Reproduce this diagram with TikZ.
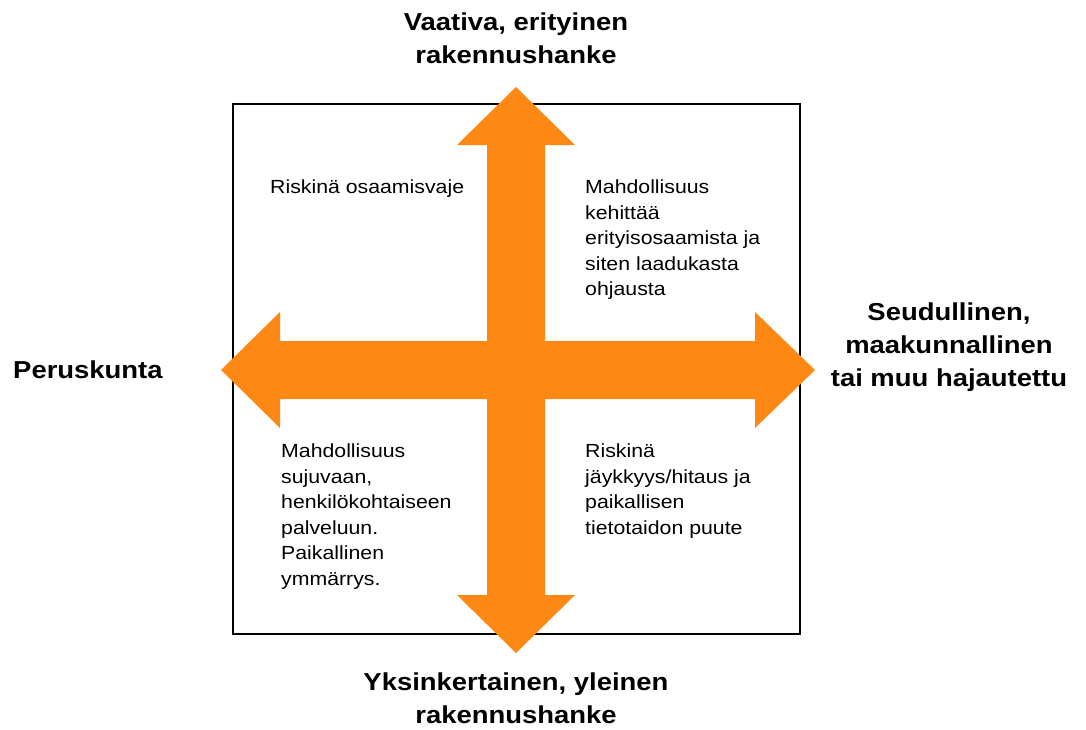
\documentclass[tikz,border=0pt]{standalone}
\usepackage{fontspec}
\setmainfont{Liberation Sans}[FakeStretch=1.12]
\definecolor{arroworange}{RGB}{253,137,20}
\tikzset{
  quadtext/.style={anchor=north west, inner sep=0pt, align=left, font=\fontsize{19}{25.5}\selectfont},
  axistext/.style={inner sep=0pt, align=center, font=\fontsize{24.5}{33}\selectfont\bfseries}
}
\begin{document}
\begin{tikzpicture}[x=1pt,y=-1pt]
\useasboundingbox (0,0) rectangle (1086,729);

% frame
\draw[line width=1.3pt] (233,104) rectangle (800,634);

% the two double arrows
\fill[arroworange] (516,87) -- (575,145) -- (545,145) -- (545,595) -- (575,595) -- (516,653)
  -- (457,595) -- (487,595) -- (487,145) -- (457,145) -- cycle;
\fill[arroworange] (221,370) -- (280,312) -- (280,341) -- (755,341) -- (755,312) -- (815,370)
  -- (755,428) -- (755,399) -- (280,399) -- (280,428) -- cycle;

% axis ends
\node[axistext, anchor=north] (top) at (516,13) {Vaativa, erityinen\\rakennushanke};
\node[axistext, anchor=north] (bottom) at (516,673) {Yksinkertainen, yleinen\\rakennushanke};
\node[axistext, anchor=west] (left) at (13,370) {Peruskunta};
\node[axistext, anchor=north] (right) at (949,303) {Seudullinen,\\maakunnallinen\\tai muu hajautettu};

% quadrants
\node[quadtext] (tl) at (270,180) {Riskinä osaamisvaje};
\node[quadtext] (tr) at (585,180) {Mahdollisuus\\kehittää\\erityisosaamista ja\\siten laadukasta\\ohjausta};
\node[quadtext] (bl) at (281,444) {Mahdollisuus\\sujuvaan,\\henkilökohtaiseen\\palveluun.\\Paikallinen\\ymmärrys.};
\node[quadtext] (br) at (585,444) {Riskinä\\jäykkyys/hitaus ja\\paikallisen\\tietotaidon puute};

\end{tikzpicture}
\end{document}
